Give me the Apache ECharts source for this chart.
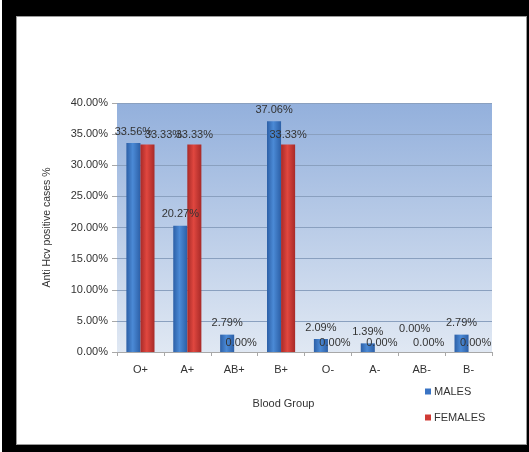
<!DOCTYPE html>
<html>
<head>
<meta charset="utf-8">
<script src="https://cdn.jsdelivr.net/npm/echarts@6/dist/echarts.min.js"></script>
<style>
  html, body { margin: 0; padding: 0; background: #fff; }
  #black { position: absolute; left: 2px; top: 0; width: 527px; height: 452px; background: #000; }
  #panel { position: absolute; left: 16px; top: 16px; width: 509px; height: 427px; background: #fff; border: 1px solid #9a9a9a; }
  #chart { position: absolute; left: 0; top: 0; width: 529px; height: 452px; }
</style>
</head>
<body>
<div id="black"></div>
<div id="panel"></div>
<div id="chart"></div>
<script>
// blood group vs anti-HCV positive cases
var groups = ['O+', 'A+', 'AB+', 'B+', 'O-', 'A-', 'AB-', 'B-'];
var males = [33.56, 20.27, 2.79, 37.06, 2.09, 1.39, 0.00, 2.79];
var females = [33.33, 33.33, 0.00, 33.33, 0.00, 0.00, 0.00, 0.00];
var yTicks = { min: 0, max: 40, interval: 5 };

(function () {
  var chart = echarts.init(document.getElementById('chart'), null, { renderer: 'canvas' });
  var font = 'Liberation Sans, Arial, sans-serif';
  var ink = '#333';

  function hGrad(edge, mid) {
    return new echarts.graphic.LinearGradient(0, 0, 1, 0, [
      { offset: 0, color: edge }, { offset: 0.45, color: mid }, { offset: 1, color: edge }
    ]);
  }
  var blue = hGrad('#2c5fa6', '#4b8ad6');
  var red = hGrad('#a82a28', '#e0473f');
  var pct = function (v) { return v.toFixed(2) + '%'; };

  chart.setOption({
    animation: false,
    textStyle: { fontFamily: font },
    grid: {
      left: 117, right: 37, top: 103, bottom: 100, show: true, borderWidth: 0,
      backgroundColor: new echarts.graphic.LinearGradient(0, 0, 0, 1, [
        { offset: 0, color: '#93b0dc' }, { offset: 1, color: '#e0e8f3' }
      ])
    },
    legend: {
      orient: 'vertical', left: 420, top: 381, itemGap: 15,
      itemWidth: 6, itemHeight: 6, icon: 'rect',
      textStyle: { color: ink, fontSize: 11, fontFamily: font, padding: [0, 0, 0, -2] },
      data: [{ name: 'MALES', itemStyle: { color: '#3a74c4' } }, { name: 'FEMALES', itemStyle: { color: '#d03a35' } }]
    },
    xAxis: {
      type: 'category', data: groups,
      name: 'Blood Group', nameLocation: 'middle', nameGap: 46,
      nameTextStyle: { color: ink, fontSize: 11, padding: [0, 42, 0, 0] },
      axisLine: { lineStyle: { color: '#a8a8a8' } },
      axisTick: { show: true, length: 4, lineStyle: { color: '#a8a8a8' } },
      axisLabel: { color: ink, fontSize: 11, margin: 12 }
    },
    yAxis: {
      type: 'value', min: yTicks.min, max: yTicks.max, interval: yTicks.interval,
      name: 'Anti Hcv positive cases %', nameLocation: 'middle', nameGap: 64,
      nameTextStyle: { color: ink, fontSize: 10.5 },
      axisLine: { show: false },
      axisTick: { show: true, length: 5, lineStyle: { color: '#a8a8a8' } },
      axisLabel: { color: ink, fontSize: 11, margin: 9, formatter: pct },
      splitLine: { lineStyle: { color: '#8aa0bf', width: 1 } }
    },
    series: [
      {
        name: 'MALES', type: 'bar', data: males, barGap: '0%', barCategoryGap: '40%',
        itemStyle: { color: blue },
        label: { show: true, position: 'top', distance: 6, color: ink, fontSize: 11, formatter: function (p) { return pct(p.value); } },
        // both zero -> lift the male label above the female one
        labelLayout: function (p) {
          var i = p.dataIndex;
          return (males[i] === 0 && females[i] === 0) ? { dy: -12 } : {};
        }
      },
      {
        name: 'FEMALES', type: 'bar', data: females,
        itemStyle: { color: red },
        label: { show: true, position: 'top', distance: 4, color: ink, fontSize: 11, formatter: function (p) { return pct(p.value); } },
        // near-equal neighbours -> push female label to the right
        labelLayout: function (p) {
          var i = p.dataIndex;
          return (females[i] > 0 && Math.abs(females[i] - males[i]) < 3) ? { dx: 16 } : {};
        }
      }
    ]
  });
  window.addEventListener('resize', function () { chart.resize(); });
})();
</script>
</body>
</html>
